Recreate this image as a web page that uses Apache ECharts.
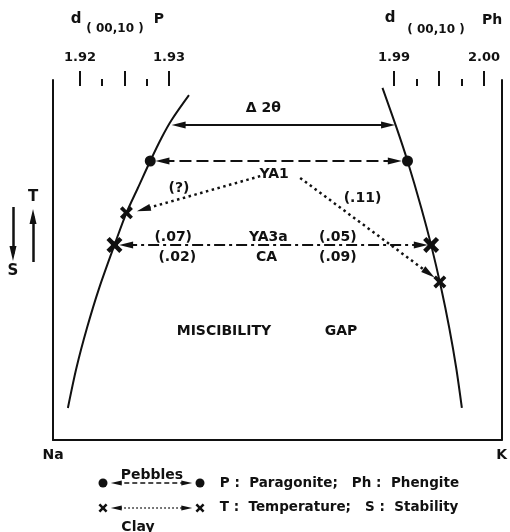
<!DOCTYPE html>
<html><head><meta charset="utf-8">
<script src="https://cdn.jsdelivr.net/npm/echarts@6/dist/echarts.min.js"></script>
<style>html,body{margin:0;padding:0;background:#fff}#c{width:510px;height:532px}</style>
</head><body><div id="c"></div>
<script>
// ---- data (composition axis: 0 = Na ... 100 = K ; vertical: relative temperature 0..100) ----
const compEnds = ['Na', 'K'];
const paragoniteSolvus = [[3.32,8.9],[5.22,20.0],[7.57,31.1],[10.29,42.2],[13.94,55.0],[16.37,63.1],[18.92,70.0],[21.68,77.5],[24.18,83.9],[26.44,88.9],[30.31,95.8]];
const phengiteSolvus   = [[91.15,8.9],[89.89,20.0],[88.34,31.1],[86.53,42.2],[84.29,54.2],[82.12,64.4],[79.03,77.5],[76.6,86.7],[73.45,97.8]];
const pebbleDots  = [[21.68,77.5],[79.03,77.5]];
const clayCrosses = [[16.37,63.1],[86.24,43.9]];
const ya3aCrosses = [[13.7,54.2],[84.29,54.2]];
// arrows [x1, y1, x2, y2]
const delta2Theta    = [28.0,87.5, 74.7,87.5];
const pebbleArrow    = [24.4,77.5, 76.2,77.5];
const clayArrowLeft  = [46.2,73.3, 20.2,64.1];
const clayArrowRight = [55.1,72.8, 83.8,46.3];
const ya3aArrow      = [16.3,54.2, 82.0,54.2];
const noteTexts  = ['Δ 2θ','YA1','(?)','(.11)','(.07)','(.02)','YA3a','CA','(.05)','(.09)','MISCIBILITY','GAP'];
const noteAnchors = [[46.9,92.2],[49.3,73.9],[28.1,70.0],[69.0,67.2],[26.8,56.4],[27.7,50.8],[48.0,56.4],[47.6,50.8],[63.5,56.4],[63.5,50.8],[38.1,30.3],[64.2,30.3]];
// top d(00,10) scales (Å)
const paragoniteScale = [1.92, 1.93];
const phengiteScale   = [1.99, 2.00];
const scaleStep = 0.005;
// side T / S indicator (mini axes 0..10)
const stabilityArrow   = [2.45,7.3, 2.45,2.65];
const temperatureArrow = [6.23,1.8, 6.23,6.35];
const sideTexts = ['T','S'];
const sideAnchors = [[6.23,8.3],[2.45,0.9]];
// legend (mini axes x 0..100, y 0..20)
const legendDots = [[11.06,13.6],[32.52,13.6]];
const legendCrosses = [[11.06,6.67],[32.52,6.67]];
const legendPebbleArrow = [14.0,13.6, 29.6,13.6];
const legendClayArrow   = [14.0,6.67, 29.6,6.67];
const legendCaptions = ['Pebbles','Clay'];
const legendCaptionAnchors = [[21.9,15.83],[18.8,1.39]];
const legendTexts = ['P :  Paragonite;   Ph :  Phengite','T :  Temperature;   S :  Stability'];
const legendTextAnchors = [[36.9,13.6],[36.9,6.67]];

// ---- chart ----
const INK = '#111';
const FONT = 'DejaVu Sans';
const XPATH = 'path://M0,2 L2,0 L5,3 L8,0 L10,2 L7,5 L10,8 L8,10 L5,7 L2,10 L0,8 L3,5 Z';
const TRI = 'triangle';

function arrow(a, type, width, startSym, endSym, size) {
  return [
    {coord:[a[0],a[1]], symbol:startSym, symbolSize:size, lineStyle:{type:type, width:width, color:INK}},
    {coord:[a[2],a[3]], symbol:endSym, symbolSize:size}
  ];
}
function markLines(items) {
  return {silent:true, animation:false, label:{show:false}, emphasis:{disabled:true},
          lineStyle:{color:INK, opacity:1}, itemStyle:{color:INK, opacity:1}, data:items};
}
function textSeries(texts, anchors, xi, yi, size, extraLabel) {
  return {type:'scatter', xAxisIndex:xi, yAxisIndex:yi, symbolSize:0, silent:true, animation:false,
    itemStyle:{opacity:1},
    data: texts.map((t,i)=>({name:t, value:anchors[i]})),
    label: Object.assign({show:true, position:'inside', formatter:'{b}', color:INK, fontFamily:FONT, fontWeight:'bold', fontSize:size}, extraLabel||{})};
}
const dotStyle = {color:INK, opacity:1};
const hiddenAxis = (gi, min, max) => ({type:'value', gridIndex:gi, min:min, max:max, show:false});
const scaleAxis = (gi, range) => ({
  type:'value', gridIndex:gi, position:'top', min:range[0], max:range[1], interval:scaleStep,
  axisLine:{show:false, onZero:false},
  axisTick:{show:true, length:15, lineStyle:{color:INK, width:2}},
  minorTick:{show:true, splitNumber:2, length:7, lineStyle:{color:INK, width:2}},
  splitLine:{show:false}, minorSplitLine:{show:false},
  axisLabel:{margin:22, color:INK, fontFamily:FONT, fontWeight:'bold', fontSize:13,
    formatter: v => (Math.round(v/scaleStep) % 2 === 1) ? '' : v.toFixed(2)}
});
const headText = (t, x, y, size) => ({type:'text', x:x, y:y,
  style:{text:t, font:'bold ' + size + 'px "DejaVu Sans"', fill:INK, align:'center', verticalAlign:'middle'}});

const option = {
  backgroundColor:'#fff',
  animation:false,
  grid:[
    {left:53, right:5, top:80, bottom:92},
    {left:53, right:5, top:460, bottom:0},
    {left:80, top:86, width:89, height:10},
    {left:394, top:86, width:90, height:10},
    {left:0, top:180, width:53, height:100}
  ],
  xAxis:[
    {type:'value', gridIndex:0, min:0, max:100, interval:100,
     axisLine:{show:true, onZero:false, lineStyle:{color:INK, width:2}}, axisTick:{show:false}, splitLine:{show:false},
     axisLabel:{margin:8, color:INK, fontFamily:FONT, fontWeight:'bold', fontSize:14, formatter: v => v === 0 ? compEnds[0] : (v === 100 ? compEnds[1] : '')}},
    hiddenAxis(1, 0, 100),
    scaleAxis(2, paragoniteScale),
    scaleAxis(3, phengiteScale),
    hiddenAxis(4, 0, 10)
  ],
  yAxis:[
    {type:'value', gridIndex:0, min:0, max:100, position:'left',
     axisLine:{show:true, onZero:false, lineStyle:{color:INK, width:2}}, axisTick:{show:false}, axisLabel:{show:false}, splitLine:{show:false}},
    {type:'value', gridIndex:0, min:0, max:100, position:'right',
     axisLine:{show:true, onZero:false, lineStyle:{color:INK, width:2}}, axisTick:{show:false}, axisLabel:{show:false}, splitLine:{show:false}},
    hiddenAxis(1, 0, 20),
    hiddenAxis(2, 0, 1),
    hiddenAxis(3, 0, 1),
    hiddenAxis(4, 0, 10)
  ],
  graphic:[
    headText('d', 76, 19, 15),
    headText('( 00,10 )', 115, 29, 12),
    headText('P', 159, 19, 14),
    headText('d', 390, 18, 15),
    headText('( 00,10 )', 436, 30, 12),
    headText('Ph', 492, 20, 14)
  ],
  series:[
    {type:'line', xAxisIndex:0, yAxisIndex:0, data:paragoniteSolvus, smooth:0.3, symbol:'none', silent:true,
     lineStyle:{color:INK, width:2}},
    {type:'line', xAxisIndex:0, yAxisIndex:0, data:phengiteSolvus, smooth:0.3, symbol:'none', silent:true,
     lineStyle:{color:INK, width:2},
     markLine: markLines([
       arrow(delta2Theta, 'solid', 2, TRI, TRI, [7,14]),
       arrow(pebbleArrow, [12,5], 2, TRI, TRI, [7,14]),
       arrow(clayArrowLeft, [2.5,3.5], 2.5, 'none', TRI, [7,14]),
       arrow(clayArrowRight, [2.5,3.5], 2.5, 'none', TRI, [7,14]),
       arrow(ya3aArrow, [11,4,3,4], 2, TRI, TRI, [7,14])
     ])},
    {type:'scatter', xAxisIndex:0, yAxisIndex:0, data:pebbleDots, symbol:'circle', symbolSize:11, silent:true, itemStyle:dotStyle},
    {type:'scatter', xAxisIndex:0, yAxisIndex:0, data:clayCrosses, symbol:XPATH, symbolSize:13, silent:true, itemStyle:dotStyle},
    {type:'scatter', xAxisIndex:0, yAxisIndex:0, data:ya3aCrosses, symbol:XPATH, symbolSize:16, silent:true, itemStyle:dotStyle},
    {type:'scatter', xAxisIndex:0, yAxisIndex:0, data:ya3aCrosses, symbol:'circle', symbolSize:7, silent:true, itemStyle:dotStyle},
    textSeries(noteTexts, noteAnchors, 0, 0, 14),
    // side T / S indicator
    {type:'line', xAxisIndex:4, yAxisIndex:5, data:[], silent:true,
     markLine: markLines([
       arrow(stabilityArrow, 'solid', 2.5, 'none', TRI, [7,15]),
       arrow(temperatureArrow, 'solid', 2.5, 'none', TRI, [7,15])
     ])},
    textSeries(sideTexts, sideAnchors, 4, 5, 15),
    // legend
    {type:'scatter', xAxisIndex:1, yAxisIndex:2, data:legendDots, symbol:'circle', symbolSize:9, silent:true, itemStyle:dotStyle,
     markLine: markLines([
       arrow(legendPebbleArrow, [5,3], 1.5, TRI, TRI, [5,11]),
       arrow(legendClayArrow, [1.5,2.5], 1.5, TRI, TRI, [5,11])
     ])},
    {type:'scatter', xAxisIndex:1, yAxisIndex:2, data:legendCrosses, symbol:XPATH, symbolSize:9, silent:true, itemStyle:dotStyle},
    textSeries(legendCaptions, legendCaptionAnchors, 1, 2, 14),
    textSeries(legendTexts, legendTextAnchors, 1, 2, 13.5, {position:'right', distance:0, align:'left', verticalAlign:'middle'})
  ]
};
const chart = echarts.init(document.getElementById('c'), null, {renderer:'canvas'});
chart.setOption(option);
</script>
</body></html>
